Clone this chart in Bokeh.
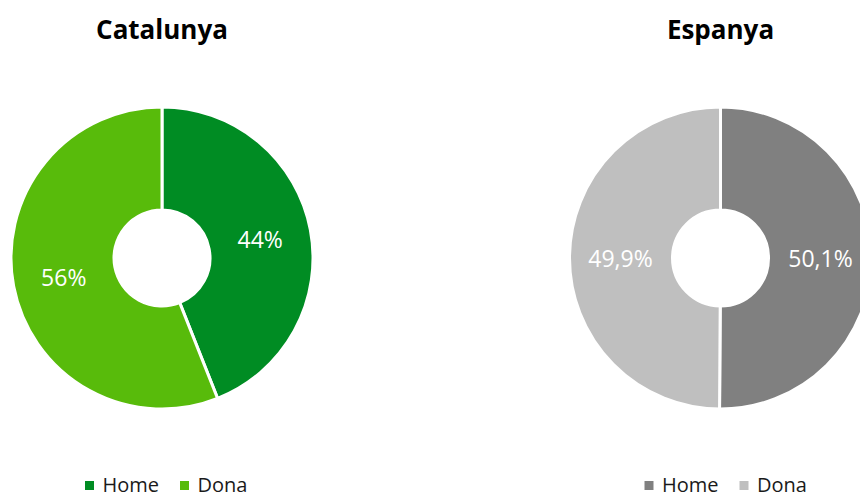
import numpy as np
from bokeh.plotting import figure
from bokeh.models import Range1d, ColumnDataSource
from bokeh.core.properties import value
from bokeh.embed import file_html
from bokeh.resources import INLINE

titles = ["Catalunya", "Espanya"]
categories = ["Home", "Dona"]
catalunya_values = [44.0, 56.0]
espanya_values = [50.1, 49.9]
catalunya_labels = ["44%", "56%"]
espanya_labels = ["50,1%", "49,9%"]
catalunya_colors = ["#008C23", "#58BB0B"]
espanya_colors = ["#808080", "#BFBFBF"]

W, H = 860, 497
p = figure(width=W, height=H, output_backend="svg", toolbar_location=None,
           x_range=Range1d(0, W), y_range=Range1d(0, H),
           min_border=0)
p.axis.visible = False
p.grid.visible = False
p.outline_line_color = None
p.background_fill_color = "white"

FONT = "Open Sans"

def Y(sy):
    return H - sy

def donut(cx, cy, vals, labels, colors, title, leg_x):
    vals = np.array(vals, dtype=float)
    frac = vals / vals.sum()
    ends = np.pi / 2 - 2 * np.pi * np.concatenate([[0], np.cumsum(frac)[:-1]])
    starts = np.pi / 2 - 2 * np.pi * np.cumsum(frac)
    src = ColumnDataSource(dict(x=[cx] * len(vals), y=[cy] * len(vals),
                                start=starts, end=ends, color=colors))
    p.annular_wedge(x="x", y="y", inner_radius=48, outer_radius=151,
                    start_angle="start", end_angle="end", fill_color="color",
                    line_color="white", line_width=3, source=src)
    mids = (starts + ends) / 2
    r = 100
    p.text(x=cx + r * np.cos(mids), y=cy + r * np.sin(mids), text=labels,
           text_color="white", text_font=value(FONT), text_font_size="23px",
           text_align="center", text_baseline="middle")
    p.text(x=[cx], y=[Y(28)], text=[title], text_font=value(FONT),
           text_font_style="bold", text_font_size="26px", text_color="black",
           text_align="center", text_baseline="middle")
    # legend
    offs = [0, 95]
    for i, cat in enumerate(categories):
        p.scatter(x=[leg_x + offs[i]], y=[Y(485)], marker="square", size=9,
                  fill_color=colors[i], line_color=None)
        p.text(x=[leg_x + offs[i] + 13], y=[Y(484)], text=[cat],
               text_font=value(FONT), text_font_size="20px", text_color="#1a1a1a",
               text_align="left", text_baseline="middle")

donut(161.5, Y(257.5), catalunya_values, catalunya_labels, catalunya_colors, titles[0], 89)
donut(720, Y(257.5), espanya_values, espanya_labels, espanya_colors, titles[1], 648.5)

open("out.html", "w").write(file_html(p, INLINE))
